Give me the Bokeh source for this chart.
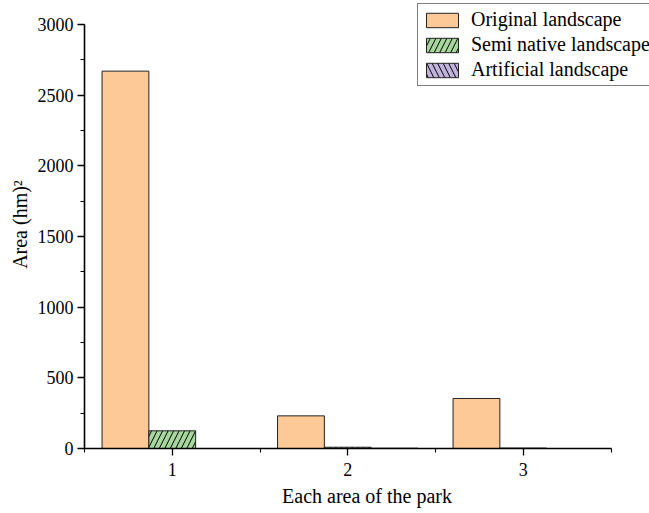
from bokeh.plotting import figure
from bokeh.models import (ColumnDataSource, FixedTicker, Legend, LegendItem,
                          Range1d, SingleIntervalTicker)
from bokeh.embed import file_html
from bokeh.resources import INLINE

# ---- data ----
areas = [1, 2, 3]
original = [2670, 231, 354]
semi_native = [125, 9, 3]
artificial = [0, 2, 0]
series_names = ["Original landscape", "Semi native landscape", "Artificial landscape"]
y_label = "Area (hm)\u00b2"
x_label = "Each area of the park"

FONT = "Liberation Serif"
bar_w = 0.8 / 3
offsets = [-bar_w, 0.0, bar_w]

# frame spans the whole right/top so the legend can overhang the axes
FW, FH = 565, 448
px_per_x = 175.5
px_per_y = 424 / 3000.0

p = figure(frame_width=FW, frame_height=FH, min_border_left=84, min_border_right=0,
           min_border_top=0, min_border_bottom=54,
           x_range=Range1d(0.5, 0.5 + FW / px_per_x), y_range=Range1d(0, FH / px_per_y),
           output_backend="svg", toolbar_location=None)
p.outline_line_color = None
p.grid.visible = False
p.background_fill_color = "white"
p.border_fill_color = "white"

styles = [
    dict(fill_color="#fdc996", hatch_pattern=None),
    dict(fill_color="#a8d69f", hatch_pattern="/"),
    dict(fill_color="#c2b3dc", hatch_pattern="\\"),
]
renderers = []
for vals, off, st in zip([original, semi_native, artificial], offsets, styles):
    src = ColumnDataSource(dict(x=[a + off for a in areas], top=vals))
    kw = dict(x="x", top="top", width=bar_w, bottom=0, source=src,
              fill_color=st["fill_color"], line_color="#222222", line_width=1)
    if st["hatch_pattern"]:
        kw.update(hatch_pattern=st["hatch_pattern"], hatch_color="black",
                  hatch_scale=11, hatch_weight=1, hatch_alpha=1.0)
    renderers.append(p.vbar(**kw))

# axes
p.xaxis.ticker = FixedTicker(ticks=areas, minor_ticks=[0.5, 1.5, 2.5, 3.5])
p.yaxis.ticker = SingleIntervalTicker(interval=500, num_minor_ticks=2)
p.xaxis.bounds = (0.5, 3.5)
p.yaxis.bounds = (0, 3000)
for ax in [p.xaxis[0], p.yaxis[0]]:
    ax.axis_line_width = 1.6
    ax.axis_line_color = "black"
    ax.major_tick_line_color = "black"
    ax.minor_tick_line_color = "black"
    ax.major_tick_line_width = 1.3
    ax.minor_tick_line_width = 1.1
    ax.major_tick_out = 7
    ax.major_tick_in = 0
    ax.minor_tick_out = 4
    ax.minor_tick_in = 0
    ax.major_label_text_font = FONT
    ax.major_label_text_font_size = "18px"
    ax.major_label_text_color = "black"
    ax.axis_label_text_font = FONT
    ax.axis_label_text_font_size = "20px"
    ax.axis_label_text_font_style = "normal"
    ax.axis_label_text_color = "black"
p.xaxis.axis_label = x_label
p.yaxis.axis_label = y_label
p.xaxis.major_label_standoff = 7
p.xaxis.axis_label_standoff = 6
p.yaxis.major_label_standoff = 4
p.yaxis.axis_label_standoff = 4

legend = Legend(items=[LegendItem(label=n, renderers=[r]) for n, r in zip(series_names, renderers)],
                location=(333, 362))
legend.border_line_color = "black"
legend.border_line_width = 1
legend.background_fill_color = "white"
legend.background_fill_alpha = 1
legend.label_text_font = FONT
legend.label_text_font_size = "20px"
legend.label_text_color = "black"
legend.glyph_width = 40
legend.glyph_height = 18
legend.label_standoff = 9
legend.label_height = 20
legend.spacing = 2
legend.padding = 4
legend.margin = 0
p.add_layout(legend, "center")

open("out.html", "w").write(file_html(p, INLINE))
